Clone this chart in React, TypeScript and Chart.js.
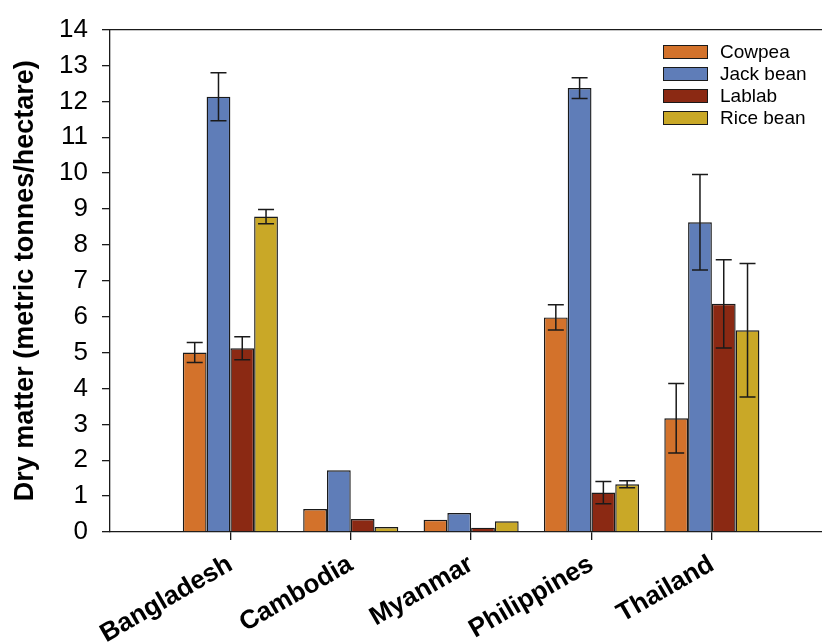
import React, { useEffect, useRef } from "react";
import { Chart, registerables } from "chart.js";

Chart.register(...registerables);

const categories = ["Bangladesh", "Cambodia", "Myanmar", "Philippines", "Thailand"];
const seriesNames = ["Cowpea", "Jack bean", "Lablab", "Rice bean"];
const cowpea = [5.0, 0.64, 0.34, 5.98, 3.17];
const cowpeaErr = [0.28, 0, 0, 0.35, 0.97];
const jackBean = [12.13, 1.72, 0.53, 12.37, 8.63];
const jackBeanErr = [0.67, 0, 0, 0.29, 1.33];
const lablab = [5.12, 0.36, 0.12, 1.1, 6.36];
const lablabErr = [0.32, 0, 0, 0.31, 1.23];
const riceBean = [8.79, 0.14, 0.3, 1.33, 5.62];
const riceBeanErr = [0.2, 0, 0, 0.1, 1.86];
const yTicks = [0, 1, 2, 3, 4, 5, 6, 7, 8, 9, 10, 11, 12, 13, 14];

const colors = ["#D3722B", "#5F7DB8", "#8B2913", "#C9A827"];
const values = [cowpea, jackBean, lablab, riceBean];
const errors = [cowpeaErr, jackBeanErr, lablabErr, riceBeanErr];

const FONT = "'Liberation Sans', Arial, sans-serif";
const INK = "#1a1a1a";

const errorBarPlugin = {
  id: "errorBars",
  afterDatasetsDraw(chart: any) {
    const ctx = chart.ctx;
    const yScale = chart.scales.y;
    ctx.save();
    ctx.strokeStyle = INK;
    ctx.lineWidth = 1.5;
    chart.data.datasets.forEach((ds: any, di: number) => {
      const meta = chart.getDatasetMeta(di);
      meta.data.forEach((bar: any, i: number) => {
        const err = ds.errors[i];
        if (!err) return;
        const v = ds.data[i].y;
        const yTop = yScale.getPixelForValue(v + err);
        const yBot = yScale.getPixelForValue(v - err);
        const x = bar.x;
        const cap = 8;
        ctx.beginPath();
        ctx.moveTo(x, yTop);
        ctx.lineTo(x, yBot);
        ctx.moveTo(x - cap, yTop);
        ctx.lineTo(x + cap, yTop);
        ctx.moveTo(x - cap, yBot);
        ctx.lineTo(x + cap, yBot);
        ctx.stroke();
      });
    });
    ctx.restore();
  },
};

const topBorderPlugin = {
  id: "topBorder",
  afterDraw(chart: any) {
    const { ctx, chartArea } = chart;
    ctx.save();
    ctx.strokeStyle = INK;
    ctx.lineWidth = 1.3;
    ctx.beginPath();
    ctx.moveTo(chartArea.left, chartArea.top);
    ctx.lineTo(chartArea.right, chartArea.top);
    ctx.stroke();
    ctx.restore();
  },
};

export default function App() {
  const ref = useRef<HTMLCanvasElement | null>(null);

  useEffect(() => {
    if (!ref.current) return;
    const chart = new Chart(ref.current, {
      type: "bar",
      data: {
        datasets: seriesNames.map((name, si) => ({
          label: name,
          data: values[si].map((v, i) => ({ x: i + 1, y: v })),
          errors: errors[si],
          backgroundColor: colors[si],
          borderColor: INK,
          borderWidth: 1.4,
          categoryPercentage: 0.79,
          barPercentage: 1.0,
        })) as any,
      },
      options: {
        responsive: false,
        animation: false,
        devicePixelRatio: 1,
        layout: { padding: { top: 26, right: 0, left: 0, bottom: 0 } },
        plugins: {
          legend: { display: false },
          tooltip: { enabled: false },
        },
        scales: {
          x: {
            type: "linear",
            min: 0,
            max: 5.915,
            offset: false,
            afterBuildTicks: (scale: any) => {
              scale.ticks = categories.map((_, i) => ({ value: i + 1 }));
            },
            afterFit: (scale: any) => {
              scale.height = 110;
            },
            grid: {
              display: true,
              offset: false,
              drawOnChartArea: false,
              drawTicks: true,
              tickLength: 8,
              color: INK,
              lineWidth: 1.3,
            },
            border: { display: true, color: INK, width: 1.3 },
            ticks: {
              autoSkip: false,
              minRotation: 30,
              maxRotation: 30,
              padding: 9,
              color: "#000",
              font: { family: FONT, size: 26, weight: "bold" },
              callback: (v: any) => categories[Math.round(v) - 1] ?? "",
            },
          },
          y: {
            min: 0,
            max: 14,
            afterBuildTicks: (scale: any) => {
              scale.ticks = yTicks.map((v) => ({ value: v }));
            },
            afterFit: (scale: any) => {
              scale.width = 110;
            },
            grid: {
              display: true,
              drawOnChartArea: false,
              drawTicks: true,
              tickLength: 8,
              color: INK,
              lineWidth: 1.3,
            },
            border: { display: true, color: INK, width: 1.3 },
            ticks: {
              padding: 14,
              color: "#000",
              font: { family: FONT, size: 26 },
            },
            title: {
              display: true,
              text: "Dry matter (metric tonnes/hectare)",
              color: "#000",
              font: { family: FONT, size: 27, weight: "bold" },
              padding: { top: 9, bottom: 0 },
            },
          },
        },
      },
      plugins: [errorBarPlugin, topBorderPlugin],
    });
    return () => chart.destroy();
  }, []);

  return (
    <div style={{ position: "fixed", left: 0, top: 0, width: 822, height: 642, background: "#fff" }}>
      <canvas ref={ref} width={822} height={642} style={{ display: "block" }} />
      <div
        style={{
          position: "absolute",
          left: 663,
          top: 41,
          fontFamily: FONT,
          fontSize: 19,
          color: "#000",
        }}
      >
        {seriesNames.map((name, si) => (
          <div key={name} style={{ display: "flex", alignItems: "center", height: 22 }}>
            <div
              style={{
                width: 43,
                height: 12,
                background: colors[si],
                border: `1.3px solid ${INK}`,
                marginRight: 12,
              }}
            />
            <span style={{ lineHeight: "22px" }}>{name}</span>
          </div>
        ))}
      </div>
    </div>
  );
}
